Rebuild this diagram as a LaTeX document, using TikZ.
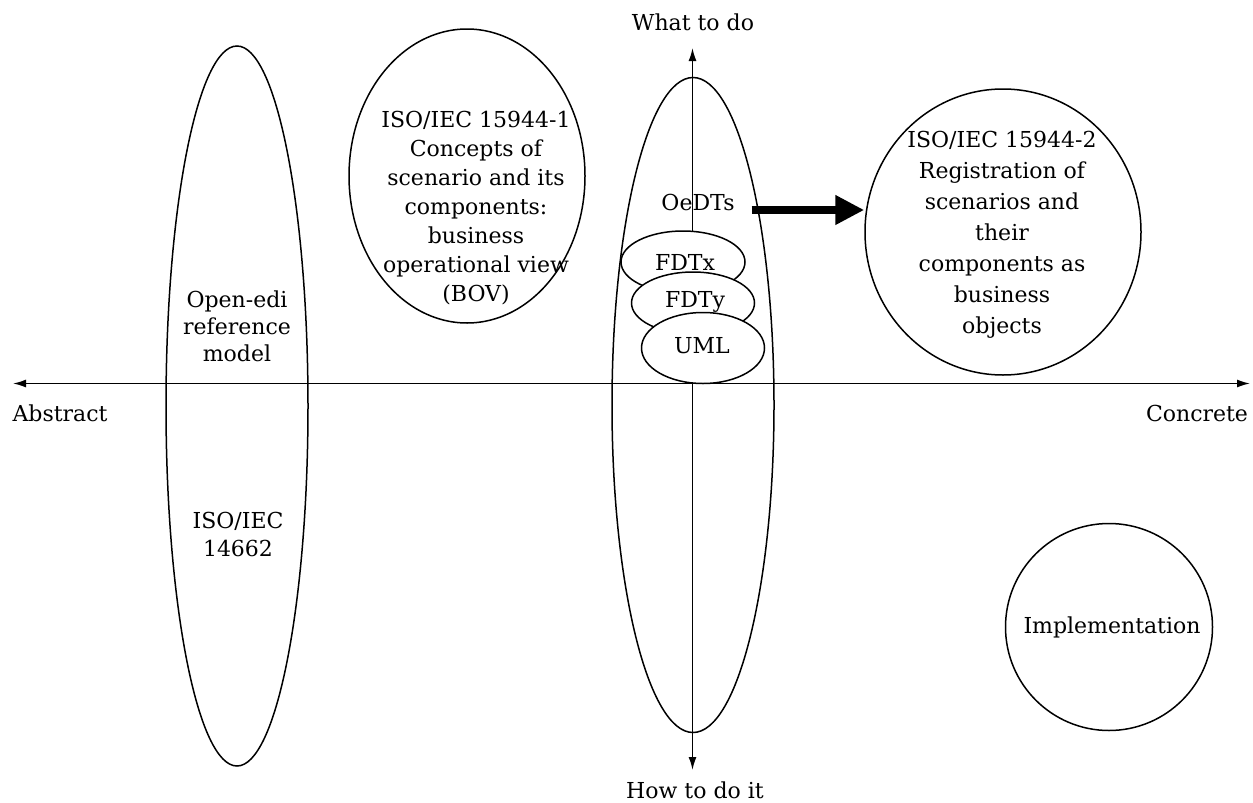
\documentclass[tikz,border=0pt]{standalone}
\usepackage{fontspec}
\setmainfont{DejaVu Serif}
\usetikzlibrary{shapes.geometric,arrows.meta}
\begin{document}
\begin{tikzpicture}[x=1pt,y=-1pt,
  ell/.style={draw, ellipse, line width=1.5pt, inner sep=0pt},
  lbl/.style={inner sep=0pt, align=center, font=\fontsize{22}{27}\selectfont},
  axisline/.style={line width=1.5pt, {Latex[length=13pt,width=8pt]}-{Latex[length=13pt,width=8pt]}},
  bigarrow/.style={line width=8pt, -{Triangle[length=29pt,width=28pt]}}]
\useasboundingbox (0,0) rectangle (1253,803);
% axes
\coordinate (axL) at (13,383.5);
\coordinate (axR) at (1250,383.5);
\coordinate (axT) at (692.5,48);
\coordinate (axB) at (692.5,770);
\draw[axisline] (axL) -- (axR);
\draw[axisline] (axT) -- (axB);
\node[lbl, anchor=base] (what) at (693,30) {What to do};
\node[lbl, anchor=base] (how) at (695,798) {How to do it};
\node[lbl, anchor=base] (abs) at (60,421) {Abstract};
\node[lbl, anchor=base] (con) at (1197,421) {Concrete};
% left ellipse
\node[ell, minimum width=142pt, minimum height=720pt] (oer) at (237,406) {};
\node[lbl] (oert) at (237,326) {Open-edi\\reference\\model};
\node[lbl, font=\fontsize{22}{28}\selectfont] (iso14662) at (238,534) {ISO/IEC\\14662};
% BOV ellipse
\node[ell, minimum width=236pt, minimum height=294pt] (bov) at (467,176) {};
\node[lbl, font=\fontsize{22}{29}\selectfont] (bovt) at (476,208) {ISO/IEC 15944-1\\Concepts of\\scenario and its\\components:\\business\\operational view\\(BOV)};
% centre ellipse
\node[ell, minimum width=162pt, minimum height=655pt] (mid) at (693,405) {};
\node[lbl, anchor=base] (oedts) at (698,210) {OeDTs};
\node[ell, fill=white, minimum width=124pt, minimum height=62pt] (fdtx) at (683,262) {};
\node[lbl] (fdtxt) at (685,262) {FDTx};
\node[ell, fill=white, minimum width=123pt, minimum height=62pt] (fdty) at (693,303) {};
\node[lbl] (fdtyt) at (695,302) {FDTy};
\node[ell, fill=white, minimum width=123pt, minimum height=71pt] (uml) at (703,348) {};
\node[lbl] (umlt) at (702,346) {UML};
% right ellipse
\node[ell, minimum width=276pt, minimum height=286pt] (reg) at (1003,232) {};
\node[lbl, font=\fontsize{22}{31}\selectfont] (regt) at (1002,235) {ISO/IEC 15944-2\\Registration of\\scenarios and\\their\\components as\\business\\objects};
% implementation
\node[ell, minimum width=207pt, minimum height=207pt] (impl) at (1109,627) {};
\node[lbl, anchor=base] (implt) at (1112,633) {Implementation};
% thick arrow
\draw[bigarrow] ([xshift=17pt,yshift=-8pt]oedts.east) -- ([yshift=-8pt]oedts.east -| reg.west);
\end{tikzpicture}
\end{document}
